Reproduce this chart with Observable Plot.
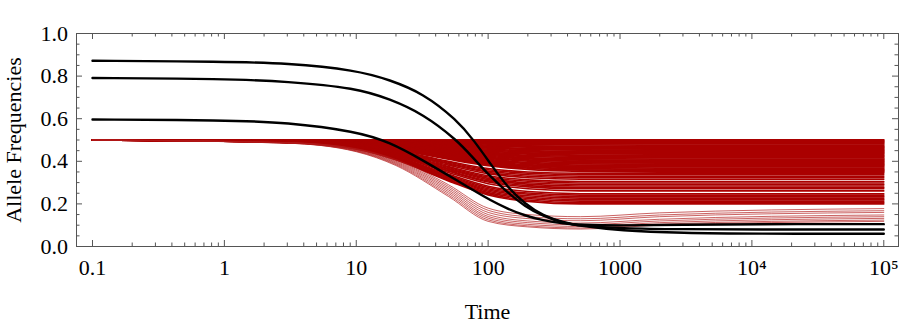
<!DOCTYPE html>
<html><head><meta charset="utf-8">
<script src="https://cdn.jsdelivr.net/npm/d3@7"></script>
<script src="https://cdn.jsdelivr.net/npm/@observablehq/plot@0.6"></script>
<style>
html,body{margin:0;padding:0;background:#fff;}
</style>
</head><body><div id="chart"></div>
<script>
// Black (thick) trajectories
const blackTimes = [0.1, 1, 3, 10, 18, 32, 58, 78, 104, 139, 190, 260, 375, 500, 1000, 3000, 10000, 100000];
const blackA = [.872,.868,.861,.828,.782,.72,.594,.498,.389,.281,.2,.145,.112,.097,.074,.063,.06,.06];
const blackB = [.791,.787,.775,.744,.692,.623,.5,.412,.328,.256,.188,.143,.11,.098,.085,.081,.08,.08];
const blackC = [.596,.593,.583,.54,.49,.405,.31,.262,.217,.178,.145,.122,.108,.102,.098,.102,.105,.105];

// Red (thin) trajectories, all starting at 0.5
const redTimes = [0.1, 3, 10, 20, 50, 100, 200, 500, 2000, 100000];
const redUpper = [
[.5,.5,.5,.5,.5,.5,.5,.5,.5,.5],
[.5,.5,.499,.498,.496,.495,.494,.494,.494,.494],
[.5,.5,.498,.496,.493,.49,.489,.488,.488,.488],
[.5,.499,.498,.495,.489,.486,.483,.482,.482,.482],
[.5,.499,.497,.493,.486,.481,.478,.477,.476,.476],
[.5,.499,.496,.491,.482,.476,.472,.471,.47,.47],
[.5,.499,.495,.489,.478,.471,.467,.465,.464,.464],
[.5,.498,.495,.487,.475,.466,.461,.459,.458,.458],
[.5,.498,.494,.486,.471,.462,.456,.453,.452,.452],
[.5,.498,.493,.484,.468,.457,.45,.447,.446,.446],
[.5,.498,.492,.482,.464,.452,.445,.441,.44,.44],
[.5,.497,.491,.48,.46,.447,.439,.435,.434,.434],
[.5,.497,.491,.478,.457,.442,.434,.429,.428,.428],
[.5,.497,.49,.477,.453,.438,.428,.424,.422,.422],
[.5,.497,.489,.475,.45,.433,.423,.418,.416,.416],
[.5,.496,.488,.473,.446,.428,.417,.412,.41,.41],
[.5,.496,.488,.471,.442,.423,.412,.406,.404,.404],
[.5,.496,.487,.469,.439,.418,.406,.4,.398,.398],
[.5,.496,.486,.468,.435,.414,.401,.394,.392,.392],
[.5,.495,.485,.466,.432,.409,.395,.388,.386,.386],
[.5,.495,.484,.464,.428,.404,.39,.382,.38,.38],
[.5,.495,.484,.462,.424,.399,.384,.377,.374,.374],
[.5,.495,.483,.46,.421,.394,.379,.371,.368,.368],
[.5,.494,.482,.459,.417,.39,.373,.365,.362,.362],
[.5,.494,.481,.457,.414,.385,.368,.359,.356,.356],
[.5,.494,.48,.455,.41,.38,.362,.353,.35,.35]
];
const redMiddle = [
[.5,.494,.478,.452,.4,.366,.35,.344,.344,.344],
[.5,.494,.477,.45,.396,.36,.344,.337,.337,.337],
[.5,.493,.476,.447,.391,.354,.337,.33,.33,.33],
[.5,.493,.475,.445,.387,.348,.33,.323,.323,.323],
[.5,.493,.474,.443,.382,.342,.323,.316,.316,.316],
[.5,.492,.473,.44,.375,.332,.313,.305,.305,.305],
[.5,.492,.472,.437,.371,.326,.306,.298,.298,.298],
[.5,.492,.471,.435,.366,.32,.299,.291,.291,.291],
[.5,.491,.47,.433,.362,.314,.293,.284,.284,.284],
[.5,.491,.469,.431,.357,.308,.286,.277,.277,.277],
[.5,.491,.468,.429,.353,.303,.28,.271,.271,.271],
[.5,.49,.467,.426,.347,.295,.271,.261,.261,.261],
[.5,.49,.465,.422,.339,.283,.258,.248,.248,.248],
[.5,.49,.464,.42,.334,.277,.251,.241,.241,.241],
[.5,.489,.463,.418,.33,.271,.245,.234,.234,.234],
[.5,.489,.462,.415,.325,.265,.238,.227,.227,.227],
[.5,.489,.461,.413,.321,.259,.231,.22,.22,.22],
[.5,.489,.46,.411,.316,.253,.225,.213,.213,.213],
[.5,.488,.459,.409,.312,.247,.218,.206,.206,.206],
[.5,.488,.458,.407,.308,.242,.212,.2,.2,.2]
];
const redLower = [
[.5,.485,.445,.38,.235,.118,.092,.082,.1,.118],
[.5,.485,.447,.384,.242,.125,.097,.087,.105,.124],
[.5,.486,.449,.388,.25,.133,.104,.094,.112,.132],
[.5,.486,.451,.392,.258,.141,.112,.102,.12,.14],
[.5,.487,.453,.396,.266,.15,.12,.11,.128,.148],
[.5,.487,.455,.4,.274,.16,.131,.121,.14,.16],
[.5,.488,.457,.404,.282,.17,.14,.13,.148,.168],
[.5,.488,.459,.408,.29,.18,.15,.14,.158,.178]
];

// Axis ticks and labels
const xTickValues = [0.1, 1, 10, 100, 1000, 10000, 100000];
const xTickLabels = ["0.1", "1", "10", "100", "1000", "10⁴", "10⁵"];
const xMinorTicks = [];
for (const base of [0.1, 1, 10, 100, 1000, 10000]) for (const k of [2,3,4,5,6,7,8,9]) xMinorTicks.push(k * base);
const yTickValues = [0, 0.2, 0.4, 0.6, 0.8, 1.0];
const yTickLabels = ["0.0", "0.2", "0.4", "0.6", "0.8", "1.0"];
const yMinorTicks = [0.05,0.1,0.15,0.25,0.3,0.35,0.45,0.5,0.55,0.65,0.7,0.75,0.85,0.9,0.95];

const toRows = (group, name) => group.flatMap((vals, i) => redTimes.map((t, j) => ({t, v: vals[j], id: name + i})));
const upperRows = toRows(redUpper, "u");
const middleRows = toRows(redMiddle, "m");
const lowerRows = toRows(redLower, "l");
const blackRows = [["A", blackA], ["B", blackB], ["C", blackC]]
  .flatMap(([id, vals]) => blackTimes.map((t, j) => ({t, v: vals[j], id})));

const W = 900, H = 322, mL = 76, mR = 2, mT = 33, mB = 76;
const fw = W - mL - mR, fh = H - mT - mB;
const tickCol = "#555";

const chart = Plot.plot({
  width: W, height: H,
  marginLeft: mL, marginRight: mR, marginTop: mT, marginBottom: mB,
  x: {type: "log", domain: [0.07563, 129300], axis: null},
  y: {domain: [0, 1], axis: null},
  style: {fontFamily: "'Liberation Serif', 'Times New Roman', serif", fontSize: "22px", background: "white", color: "black"},
  marks: [
    Plot.line(upperRows, {x: "t", y: "v", z: "id", stroke: "#aa0000", strokeWidth: 1.9, curve: "monotone-x"}),
    Plot.line(middleRows, {x: "t", y: "v", z: "id", stroke: "#aa0000", strokeWidth: 1.6, curve: "monotone-x"}),
    Plot.line(lowerRows, {x: "t", y: "v", z: "id", stroke: "#b01818", strokeWidth: 0.8, strokeOpacity: 0.85, curve: "monotone-x"}),
    Plot.line(blackRows, {x: "t", y: "v", z: "id", stroke: "black", strokeWidth: 2.4, curve: "basis"}),
    Plot.frame({stroke: tickCol}),
    // bottom & top ticks
    Plot.tickX(xTickValues, {x: d => d, stroke: tickCol, insetTop: fh - 6}),
    Plot.tickX(xTickValues, {x: d => d, stroke: tickCol, insetBottom: fh - 6}),
    Plot.tickX(xMinorTicks, {x: d => d, stroke: tickCol, insetTop: fh - 3.5}),
    Plot.tickX(xMinorTicks, {x: d => d, stroke: tickCol, insetBottom: fh - 3.5}),
    // left & right ticks
    Plot.tickY(yTickValues, {y: d => d, stroke: tickCol, insetRight: fw - 6}),
    Plot.tickY(yTickValues, {y: d => d, stroke: tickCol, insetLeft: fw - 6}),
    Plot.tickY(yMinorTicks, {y: d => d, stroke: tickCol, insetRight: fw - 3.5}),
    Plot.tickY(yMinorTicks, {y: d => d, stroke: tickCol, insetLeft: fw - 3.5}),
    // tick labels
    Plot.text(xTickValues, {x: d => d, text: (d, i) => xTickLabels[i], frameAnchor: "bottom", textAnchor: "middle", lineAnchor: "bottom", dy: 28, fill: "black"}),
    Plot.text(yTickValues, {y: d => d, text: (d, i) => yTickLabels[i], frameAnchor: "left", textAnchor: "end", lineAnchor: "middle", dx: -8.5, fill: "black"}),
    // axis titles
    Plot.text(["Time"], {text: d => d, frameAnchor: "bottom", textAnchor: "middle", lineAnchor: "bottom", dy: 72, fill: "black"}),
    Plot.text(["Allele Frequencies"], {text: d => d, frameAnchor: "left", textAnchor: "middle", rotate: -90, lineAnchor: "bottom", dx: -55.3, fill: "black"})
  ]
});
document.getElementById("chart").appendChild(chart);
</script>
</body></html>
